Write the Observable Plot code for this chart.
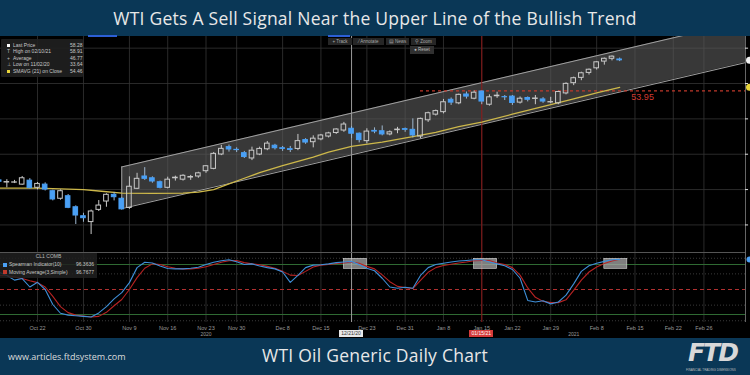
<!DOCTYPE html>
<html><head><meta charset="utf-8">
<script src="https://cdn.jsdelivr.net/npm/d3@7"></script>
<script src="https://cdn.jsdelivr.net/npm/@observablehq/plot@0.6"></script>
<style>
body{margin:0;background:#000;}
#wrap{position:relative;width:750px;height:375px;overflow:hidden;background:#000;font-family:"Liberation Sans",Arial,sans-serif;}
#head{position:absolute;left:0;top:0;width:750px;height:36px;background:#0a3756;color:#e8e8e8;font-family:"Open Sans";font-size:17.5px;letter-spacing:0.25px;line-height:36px;text-align:center;}
#top{position:absolute;left:0;top:36px;}
#bot{position:absolute;left:0;top:252px;}
#foot{position:absolute;left:0;top:338px;width:750px;height:37px;background:#0a3756;}
.ov{position:absolute;white-space:nowrap;}
</style></head>
<body><div id="wrap">
<div id="head">WTI Gets A Sell Signal Near the Upper Line of the Bullish Trend</div>
<div id="top"></div>
<div id="bot"></div>
<div id="foot">
  <div class="ov" style="left:8px;top:12px;font-family:'Open Sans';font-size:9px;color:#dcdcdc;">www.articles.ftdsystem.com</div>
  <div class="ov" id="ftitle" style="left:0;width:750px;top:5px;text-align:center;font-family:'Open Sans';font-size:17.5px;letter-spacing:0.25px;color:#e8e8e8;">WTI Oil Generic Daily Chart</div>
  <div class="ov" style="left:688px;top:0px;font-family:'DejaVu Sans';font-style:italic;font-weight:bold;font-size:25px;letter-spacing:-2px;color:#d8d8d8;">FTD</div>
  <div class="ov" style="left:686px;top:30px;font-size:3px;color:#bbb;">FINANCIAL TRADING DIMENSIONS</div>
</div>
</div>
<script>
// ---------- data ----------
const dates = ["2020-10-15","2020-10-16","2020-10-19","2020-10-20","2020-10-21","2020-10-22","2020-10-23","2020-10-26","2020-10-27","2020-10-28","2020-10-29","2020-10-30","2020-11-02","2020-11-03","2020-11-04","2020-11-05","2020-11-06","2020-11-09","2020-11-10","2020-11-11","2020-11-12","2020-11-13","2020-11-16","2020-11-17","2020-11-18","2020-11-19","2020-11-20","2020-11-23","2020-11-24","2020-11-25","2020-11-27","2020-11-30","2020-12-01","2020-12-02","2020-12-03","2020-12-04","2020-12-07","2020-12-08","2020-12-09","2020-12-10","2020-12-11","2020-12-14","2020-12-15","2020-12-16","2020-12-17","2020-12-18","2020-12-21","2020-12-22","2020-12-23","2020-12-24","2020-12-28","2020-12-29","2020-12-30","2020-12-31","2021-01-04","2021-01-05","2021-01-06","2021-01-07","2021-01-08","2021-01-11","2021-01-12","2021-01-13","2021-01-14","2021-01-15","2021-01-19","2021-01-20","2021-01-21","2021-01-22","2021-01-25","2021-01-26","2021-01-27","2021-01-28","2021-01-29","2021-02-01","2021-02-02","2021-02-03","2021-02-04","2021-02-05","2021-02-08","2021-02-09","2021-02-10","2021-02-11"];
const futureDates = ["2021-02-12","2021-02-15","2021-02-16","2021-02-17","2021-02-18","2021-02-19","2021-02-22","2021-02-23","2021-02-24","2021-02-25","2021-02-26","2021-03-01","2021-03-02","2021-03-03","2021-03-04","2021-03-05","2021-03-08"];
const open  = [41.30,41.00,40.98,40.70,41.26,40.25,40.70,39.77,38.70,39.06,37.50,36.23,35.40,37.13,38.31,39.26,38.70,37.40,40.11,41.85,41.60,41.04,40.25,41.60,41.40,41.70,41.85,42.60,42.93,44.96,46.00,45.62,45.15,44.40,44.95,45.70,46.20,45.85,45.72,45.75,47.00,46.70,47.10,47.50,48.00,48.35,48.60,47.90,46.85,48.30,48.25,47.80,48.40,48.55,48.45,47.50,49.80,50.60,50.95,52.70,52.20,53.45,52.85,53.87,52.00,53.20,53.08,53.15,52.30,52.95,52.82,52.75,52.33,52.20,53.60,55.05,55.80,56.50,57.15,58.10,58.50,58.40];
const high  = [41.45,41.40,41.30,41.85,41.55,41.00,40.95,39.90,39.95,39.30,37.70,36.65,37.10,38.45,39.40,39.60,38.85,41.80,42.30,43.10,41.80,41.20,41.75,41.90,42.10,42.00,42.45,43.40,45.25,46.25,46.30,45.90,45.40,46.00,46.00,46.80,46.40,46.10,46.10,47.80,47.20,47.60,47.80,48.10,48.60,49.50,48.90,48.00,48.60,48.73,49.00,48.30,48.80,48.70,50.00,50.10,50.95,51.25,52.75,52.95,53.50,53.80,53.95,53.95,53.40,53.77,53.30,53.30,53.10,53.10,53.30,53.00,53.05,53.90,55.10,55.90,56.60,57.05,58.10,58.60,58.91,58.60];
const low   = [40.85,40.25,40.85,40.60,40.10,39.95,39.80,38.40,38.50,37.30,35.06,35.38,33.64,36.90,37.50,38.40,37.10,37.20,40.00,41.30,40.90,40.10,40.10,41.20,41.20,41.30,41.60,42.30,42.80,44.80,45.30,45.24,44.40,44.10,44.80,45.50,45.60,45.40,45.24,45.50,46.40,45.90,46.90,47.30,47.80,48.10,47.20,46.60,46.47,47.90,47.60,47.60,47.90,48.10,47.30,47.20,49.50,50.40,50.70,51.90,52.00,52.80,52.70,52.00,51.80,52.90,52.60,51.90,52.10,52.40,52.00,52.20,52.13,52.00,53.40,54.70,55.40,56.20,56.90,57.60,58.20,58.10];
const close = [41.10,41.06,41.02,41.60,40.20,40.80,40.00,38.60,39.77,37.42,36.33,35.95,36.90,37.74,39.26,38.92,37.20,40.40,41.52,41.52,41.14,40.25,41.40,41.68,41.95,41.78,42.30,43.30,45.05,45.76,45.67,45.58,44.60,45.50,45.75,46.50,45.85,45.75,45.60,46.85,46.65,47.20,47.65,47.95,48.50,49.20,47.90,47.00,48.20,48.20,47.80,48.10,48.48,48.45,47.65,50.00,50.80,51.10,52.35,52.30,53.40,53.15,53.70,52.45,53.05,53.28,53.05,52.25,52.85,52.70,52.88,52.45,52.37,53.80,54.95,55.75,56.45,56.95,58.00,58.50,58.80,58.28];
const smaDates  = ["2020-10-15","2020-10-22","2020-10-30","2020-11-03","2020-11-06","2020-11-12","2020-11-18","2020-11-20","2020-11-24","2020-11-27","2020-12-01","2020-12-03","2020-12-08","2020-12-14","2020-12-16","2020-12-21","2020-12-28","2021-01-04","2021-01-07","2021-01-12","2021-01-15","2021-01-22","2021-01-29","2021-02-03","2021-02-08","2021-02-11"];
const smaValues = [40.2,40.2,40.0,39.8,39.5,39.45,39.5,39.65,40.0,40.8,41.6,42.4,43.4,44.6,45.3,46.1,46.7,47.5,48.1,48.9,49.55,50.66,52.0,52.84,53.66,54.46];
const channelDates = ["2020-11-06","2021-03-08"];
const channelUpper = [43.2, 64.0];
const channelLower = [37.3, 58.1];
const sellLevel = 53.95, sellLevelFrom = "2021-01-05", sellLabelDate = "2021-02-16";
const priceTicks = [35,40,45,50,55,60];
const tickDates  = ["2020-10-22","2020-10-30","2020-11-09","2020-11-16","2020-11-23","2020-11-30","2020-12-08","2020-12-15","2020-12-23","2020-12-31","2021-01-08","2021-01-15","2021-01-22","2021-01-29","2021-02-08","2021-02-15","2021-02-22","2021-02-26"];
const tickLabels = ["Oct 22","Oct 30","Nov 9","Nov 16","Nov 23","Nov 30","Dec 8","Dec 15","Dec 23","Dec 31","Jan 8","Jan 15","Jan 22","Jan 29","Feb 8","Feb 15","Feb 22","Feb 26"];
const yearLabels = ["2020","2021"];
const yearDates  = ["2020-11-23","2021-02-03"];
const spearman   = [55,45,30,35,8,23,0,-48,-76,-82,-84,-86,-88,-75,-55,-30,-10,22,70,87,85,75,67,66,66,68,71,80,87,92,95,89,80,82,75,70,66,56,23,45,70,78,79,82,86,88,90,79,68,60,36,8,4,7,4,45,70,80,84,88,91,93,95,95,88,82,76,64,36,-35,-40,-36,-46,-40,-18,18,58,76,84,90,95,96.36];
const spearmanMA = [45,45,40,35,28,22,8,-22,-55,-74,-82,-85,-88,-86,-73,-52,-32,0,38,68,82,80,73,68,66,66,68,73,80,87,92,93,86,82,79,74,68,58,46,45,58,72,78,80,83,85,88,84,74,66,47,25,10,6,3,29,55,70,77,81,85,88,92,93,93,85,80,70,46,5,-25,-38,-42,-42,-33,-3,30,56,72,83,91,96.77];
const oscBands = [80,-80];
const signalFrom = ["2020-12-18","2021-01-14","2021-02-09"];
const signalTo   = ["2020-12-23","2021-01-20","2021-02-12"];
const crossDates = ["2020-12-21","2021-01-15"];
const crossLabels = ["12/21/20","01/15/21"];
const legendLabels = ["Last Price","High on 02/10/21","Average","Low on 11/02/20","SMAVG (21)  on Close"];
const legendValues = [58.28,58.91,46.77,33.64,54.46];
const oscLegendLabels = ["Spearman Indicator(10)","Moving Average(3,Simple)"];
const oscLegendValues = ["96.3636","96.7677"];

// ---------- derived tables ----------
const allDates = dates.concat(futureDates);
const idx = d => allDates.indexOf(d);
const candles = dates.map((d,i)=>({i, o:open[i], h:high[i], l:low[i], c:close[i], up: close[i] >= open[i]}));
const sma = smaDates.map((d,j)=>({i: idx(d), v: smaValues[j]}));
const channel = channelDates.map((d,j)=>({i: idx(d), hi: channelUpper[j], lo: channelLower[j]}));
const osc = dates.map((d,i)=>({i, sp: spearman[i], ma: spearmanMA[i]}));
const signals = signalFrom.map((d,j)=>({a: idx(d), b: idx(signalTo[j])}));
const ticks = tickDates.map((d,j)=>({i: idx(d), label: tickLabels[j]}));
const xDomain = [0.17, 97.43];
const UP = "#c9c9c9", DOWN = "#4aa0f5";

const topPlot = Plot.plot({
  width: 750, height: 216, marginTop: 0, marginBottom: 0, marginLeft: 0, marginRight: 5,
  style: {background: "transparent", overflow: "visible"},
  x: {type: "linear", domain: xDomain, axis: null},
  y: {domain: [31.10, 61.65], axis: null},
  marks: [
    Plot.ruleY(priceTicks, {stroke: "#353535", strokeWidth: 0.8}),
    Plot.ruleX(ticks, {x: "i", stroke: "#353535", strokeWidth: 0.8}),
    Plot.areaY(channel, {x: "i", y1: "lo", y2: "hi", fill: "#5a5a5a", fillOpacity: 0.62, clip: true}),
    Plot.line(channel, {x: "i", y: "hi", stroke: "#a0a0a0", strokeWidth: 1, clip: true}),
    Plot.line(channel, {x: "i", y: "lo", stroke: "#a0a0a0", strokeWidth: 1, clip: true}),
    Plot.ruleX(channel.slice(0,1), {x: "i", y1: "lo", y2: "hi", stroke: "#a0a0a0"}),
    Plot.ruleY([sellLevel], {x1: () => idx(sellLevelFrom), x2: () => xDomain[1], stroke: "#c0392b", strokeWidth: 1.2, strokeDasharray: "3,3"}),
    Plot.text([sellLevel], {x: () => idx(sellLabelDate), y: d => d, text: d => d.toFixed(2), dy: 6, fill: "#d23a30", fontSize: 9, fontFamily: "Liberation Sans"}),
    Plot.ruleX([crossDates[0]], {x: d => idx(d), stroke: "#9a9a9a", strokeWidth: 1}),
    Plot.ruleX([crossDates[1]], {x: d => idx(d), stroke: "#8a1515", strokeWidth: 1}),
    Plot.line(sma, {x: "i", y: "v", stroke: "#cdb84a", strokeWidth: 1.3}),
    Plot.ruleX(candles, {x: "i", y1: "l", y2: d => Math.min(d.o, d.c), stroke: d => d.up ? UP : "#9fb8d0", strokeWidth: 1}),
    Plot.ruleX(candles, {x: "i", y1: d => Math.max(d.o, d.c), y2: "h", stroke: d => d.up ? UP : "#9fb8d0", strokeWidth: 1}),
    Plot.rect(candles, {x1: d => d.i - 0.3, x2: d => d.i + 0.3, y1: "o", y2: "c",
      fill: d => d.up ? "none" : DOWN, stroke: d => d.up ? UP : DOWN, strokeWidth: 1}),
    Plot.ruleX([xDomain[1]], {stroke: "#666"}),
    Plot.ruleY(priceTicks, {x1: () => xDomain[1], x2: () => xDomain[1] + 0.4, stroke: "#ddd"}),
    Plot.dot([legendValues[0]], {x: () => xDomain[1], y: d => d, r: 3.5, fill: "#f2f2f2", dx: 4}),
    Plot.dot([legendValues[4]], {x: () => xDomain[1], y: d => d, r: 3.5, fill: "#e8d53a", dx: 4})
  ]
});
document.getElementById("top").appendChild(topPlot);

const botPlot = Plot.plot({
  width: 750, height: 86, marginTop: 0, marginBottom: 16, marginLeft: 0, marginRight: 5,
  style: {background: "transparent", overflow: "visible"},
  x: {type: "linear", domain: xDomain, axis: null},
  y: {domain: [-105.6, 118.4], axis: null},
  marks: [
    Plot.ruleY([100, 50, -50, -100], {stroke: "#3a3a3a", strokeDasharray: "1,2"}),
    Plot.ruleX(ticks, {x: "i", stroke: "#353535", strokeWidth: 0.8}),
    Plot.ruleY(oscBands, {stroke: "#2f6a33", strokeWidth: 1}),
    Plot.ruleY([0], {stroke: "#b03030", strokeWidth: 1, strokeDasharray: "4,3"}),
    Plot.ruleX([crossDates[0]], {x: d => idx(d), stroke: "#9a9a9a", strokeWidth: 1}),
    Plot.ruleX([crossDates[1]], {x: d => idx(d), stroke: "#8a1515", strokeWidth: 1}),
    Plot.rect(signals, {x1: "a", x2: "b", y1: 66, y2: 98, fill: "#a8a8a8", fillOpacity: 0.75, stroke: "#dddddd", strokeWidth: 0.6}),
    Plot.line(osc, {x: "i", y: "ma", stroke: "#b82323", strokeWidth: 1.1}),
    Plot.line(osc, {x: "i", y: "sp", stroke: "#3f8fd8", strokeWidth: 1.1}),
    Plot.ruleX([xDomain[1]], {stroke: "#666"}),
    Plot.dot([spearman[spearman.length-1]], {x: () => xDomain[1], y: d => d, r: 3, fill: "#4aa0f5", dx: 4}),
    Plot.text(ticks, {x: "i", frameAnchor: "bottom", dy: 7, text: "label", fill: "#9a9a9a", fontSize: 5.5, fontFamily: "Liberation Sans"}),
    Plot.text(yearLabels, {x: (d,j) => idx(yearDates[j]), frameAnchor: "bottom", dy: 13, text: d => d, fill: "#9a9a9a", fontSize: 5, fontFamily: "Liberation Sans"}),
    Plot.ruleY([118.4], {stroke: "#555", strokeWidth: 1})
  ]
});
document.getElementById("bot").appendChild(botPlot);

// ---------- overlays (legends, toolbar, crosshair date tags) ----------
const wrap = document.getElementById("wrap");
function ov(html, css){ const d = document.createElement("div"); d.className = "ov"; d.style.cssText = css; d.innerHTML = html; wrap.appendChild(d); return d; }
ov("", "left:88px;top:35px;width:29px;height:2px;background:#2c5fd6;");
ov("", "left:328px;top:35px;width:22px;height:2px;background:#2c5fd6;");
ov("", "left:1px;top:39px;width:82px;height:38px;background:rgba(32,32,32,0.9);border-radius:1px;");
const icons = ['<span style="display:inline-block;width:3px;height:3px;background:#fff;"></span>',"T","+","&perp;",'<span style="display:inline-block;width:3px;height:3px;background:#e8d53a;"></span>'];
legendLabels.forEach((t,j)=>{
  const y = 42.5 + j*6.6;
  ov(icons[j], `left:7px;top:${y}px;font-size:5px;color:#bbb;line-height:5px;`);
  ov(t, `left:13px;top:${y}px;font-size:5px;color:#c8c8c8;line-height:5px;`);
  ov(legendValues[j].toFixed(2), `right:${750-82.5}px;top:${y}px;font-size:5px;color:#c8c8c8;line-height:5px;`);
});
[["+ Track",328,24],["&#8260; Annotate",353,31],["&#9636; News",386,23],["&#9906; Zoom",411,25]].forEach(([t,x,w])=>{
  ov(t, `left:${x}px;top:38px;width:${w}px;height:7px;background:#262626;font-size:4.5px;line-height:7px;color:#aaa;text-align:center;`);
});
ov("&#9679; Reset", "left:410px;top:46px;width:24px;height:8px;background:#303030;font-size:4.5px;line-height:8px;color:#bbb;text-align:center;");
ov("", "left:0px;top:253px;width:97px;height:25px;background:rgba(32,32,32,0.85);");
ov("CL1 COMB", "left:0;width:97px;top:253px;text-align:center;font-size:5px;color:#bbb;");
const oscCols = ["#4aa0f5","#c0392b"];
oscLegendLabels.forEach((t,j)=>{
  const y = 262.5 + j*7.5;
  ov("", `left:3px;top:${y}px;width:4px;height:4px;background:${oscCols[j]};`);
  ov(t, `left:9px;top:${y-0.5}px;font-size:5px;color:#c8c8c8;line-height:5px;`);
  ov(oscLegendValues[j], `right:${750-94}px;top:${y-0.5}px;font-size:5px;color:#c8c8c8;line-height:5px;`);
});
const xs = botPlot.scale("x");
crossDates.forEach((d,j)=>{
  const cx = xs.apply(idx(d));
  const bg = j === 0 ? "#e8e8e8" : "#d63a3a", fg = j === 0 ? "#333" : "#fff";
  ov(crossLabels[j], `left:${cx-12}px;top:330px;width:24px;height:7px;background:${bg};color:${fg};font-size:5px;line-height:7px;text-align:center;`);
});
</script>
</body></html>
